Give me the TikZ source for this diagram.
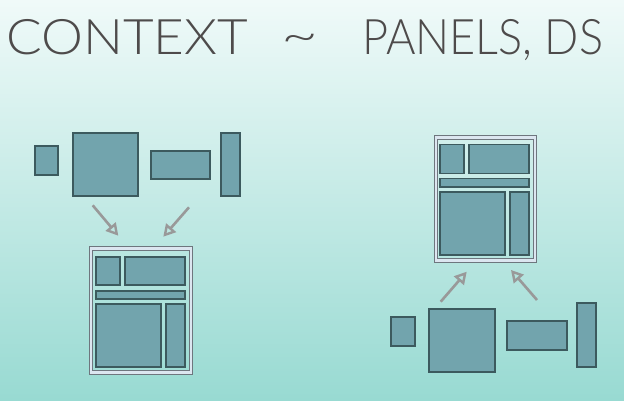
\documentclass[tikz,border=0pt]{standalone}
\usepackage{fontspec}
\newfontfamily\titlefont{Lato}[UprightFont=* Light]
\usetikzlibrary{arrows.meta}
\definecolor{bgtop}{HTML}{F0FAF9}
\definecolor{bgbot}{HTML}{98DAD2}
\definecolor{boxfill}{HTML}{72A4AD}
\definecolor{boxline}{HTML}{3C5A5E}
\definecolor{framel}{HTML}{6E767E}
\definecolor{framegap}{HTML}{DCE6F0}
\definecolor{arrowc}{HTML}{999999}
\definecolor{titlec}{HTML}{4E4B4B}
\tikzset{
  box/.style={draw=boxline, fill=boxfill, line width=1.2pt, inner sep=0pt, outer sep=0pt},
  frame/.style={draw=framel, line width=1pt, double=framegap, double distance=2.4pt, inner sep=0pt, outer sep=0pt},
  flow/.style={draw=arrowc, line width=2.6pt, -{Triangle[open, length=12pt, width=13pt, line width=2.4pt]}},
  ttl/.style={font=\titlefont\fontsize{49}{50}\selectfont, text=titlec, inner sep=0pt, anchor=base west}
}
\begin{document}
\begin{tikzpicture}[x=1pt, y=-1pt]
\useasboundingbox (0,0) rectangle (624,400);
\shade[top color=bgtop, bottom color=bgbot] (0,0) rectangle (624,400);
% title
\node[ttl, xscale=1.08] (t1) at (6,54) {CONTEXT};
\node[ttl, anchor=base, xscale=1.3] (t2) at (300,52) {\~{}};
\node[ttl, xscale=0.92] (t3) at (362,54) {PANELS, DS};
% top-left group
\node[box, minimum width=23pt, minimum height=29pt] (s1) at (46.5,160.5) {};
\node[box, minimum width=65pt, minimum height=63pt] (s2) at (105.5,164.5) {};
\node[box, minimum width=59pt, minimum height=28pt] (s3) at (180.5,165) {};
\node[box, minimum width=19pt, minimum height=63pt] (s4) at (230.5,164.5) {};
% bottom-left panel
\node[frame, minimum width=100pt, minimum height=124pt] (pf) at (141,310.5) {};
\node[box, minimum width=24pt, minimum height=28pt] (p1) at (108,271) {};
\node[box, minimum width=60pt, minimum height=28pt] (p2) at (155,271) {};
\node[box, minimum width=89pt, minimum height=8pt] (p3) at (140.5,295) {};
\node[box, minimum width=65pt, minimum height=63pt] (p4) at (128.5,335.5) {};
\node[box, minimum width=19pt, minimum height=63pt] (p5) at (175.5,335.5) {};
% top-right panel
\node[frame, minimum width=99pt, minimum height=123pt] (qf) at (485.5,199) {};
\node[box, minimum width=24pt, minimum height=29pt] (q1) at (452,159) {};
\node[box, minimum width=60pt, minimum height=29pt] (q2) at (499,159) {};
\node[box, minimum width=89pt, minimum height=8.5pt] (q3) at (484.5,182.75) {};
\node[box, minimum width=65pt, minimum height=63pt] (q4) at (472.5,223.5) {};
\node[box, minimum width=19pt, minimum height=63pt] (q5) at (519.5,223.5) {};
% bottom-right group
\node[box, minimum width=24pt, minimum height=29pt] (r1) at (403,331.5) {};
\node[box, minimum width=66pt, minimum height=63pt] (r2) at (462,340.5) {};
\node[box, minimum width=60pt, minimum height=29pt] (r3) at (537,335.5) {};
\node[box, minimum width=19pt, minimum height=64pt] (r4) at (586.5,335) {};
% arrows
\coordinate (a1s) at (92.7,205.3);
\coordinate (a1e) at (118.3,235.7);
\coordinate (a2s) at (189,207.3);
\coordinate (a2e) at (163.3,236.7);
\coordinate (b1s) at (440.7,301.7);
\coordinate (b1e) at (466.7,271.7);
\coordinate (b2s) at (537,300);
\coordinate (b2e) at (511,270);
\draw[flow] (a1s) -- (a1e);
\draw[flow] (a2s) -- (a2e);
\draw[flow] (b1s) -- (b1e);
\draw[flow] (b2s) -- (b2e);
\end{tikzpicture}
\end{document}
